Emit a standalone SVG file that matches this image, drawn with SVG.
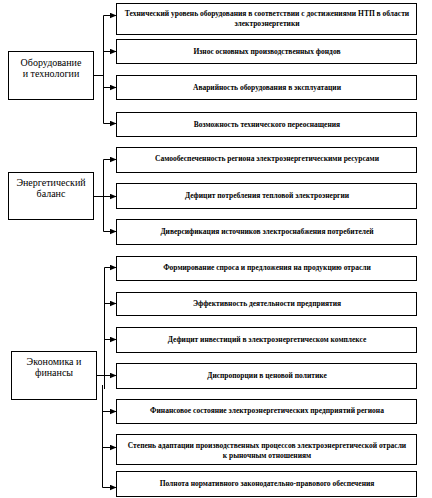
<svg xmlns="http://www.w3.org/2000/svg" width="432" height="498" viewBox="0 0 432 498">
<style>
.box{fill:#fff;stroke:#000;stroke-width:1}
.ln{fill:none;stroke:#000;stroke-width:1}
.ar{fill:none;stroke:#000;stroke-width:1;marker-end:url(#ah)}
.t{font-family:"Liberation Serif","Times New Roman",serif;font-size:7.5px;font-weight:bold;text-anchor:middle;fill:#000}
.m{font-family:"Liberation Serif","Times New Roman",serif;font-size:10px;text-anchor:middle;fill:#000}
</style>
<defs>
<marker id="ah" markerUnits="userSpaceOnUse" markerWidth="7" markerHeight="6" refX="7" refY="3" orient="auto">
<path d="M0,0 L7,3 L0,6 z" fill="#000"/>
</marker>
</defs>
<g id="connectors">
<path class="ln" d="M93.5,75.5 H103.5 M103.5,15.5 V123.5"/>
<path class="ar" d="M103.5,15.5 H116.5"/>
<path class="ar" d="M103.5,51.5 H116.5"/>
<path class="ar" d="M103.5,87.5 H116.5"/>
<path class="ar" d="M103.5,123.5 H116.5"/>
<path class="ln" d="M93.5,196.5 H103.5 M103.5,159.5 V231.5"/>
<path class="ar" d="M103.5,159.5 H116.5"/>
<path class="ar" d="M103.5,196.5 H116.5"/>
<path class="ar" d="M103.5,231.5 H116.5"/>
<path class="ln" d="M96.5,375.5 H104.5 M104.5,267.5 V389 M102.5,385 V487.5"/>
<path class="ar" d="M104.5,267.5 H116.5"/>
<path class="ar" d="M104.5,303.5 H116.5"/>
<path class="ar" d="M104.5,339.5 H116.5"/>
<path class="ar" d="M104.5,375.5 H116.5"/>
<path class="ar" d="M102.5,411.5 H116.5"/>
<path class="ar" d="M102.5,447.5 H116.5"/>
<path class="ar" d="M102.5,487.5 H116.5"/>
</g>
<g id="n-equip">
<rect class="box" x="8.5" y="51.5" width="85" height="48"/>
<text class="m" x="51" y="65.5">Оборудование</text>
<text class="m" x="51" y="76.5">и технологии</text>
</g>
<g id="n-balance">
<rect class="box" x="8.5" y="172.5" width="85" height="47"/>
<text class="m" x="51" y="185.5">Энергетический</text>
<text class="m" x="51" y="196.5">баланс</text>
</g>
<g id="n-econ">
<rect class="box" x="11.5" y="351.5" width="85" height="48"/>
<text class="m" x="54" y="364.5">Экономика и</text>
<text class="m" x="54" y="375.5">финансы</text>
</g>
<g id="r1">
<rect class="box" x="116.5" y="3.5" width="300" height="31"/>
<text class="t" x="267" y="15.5">Технический уровень оборудования в соответствии с достижениями НТП в области</text>
<text class="t" x="267" y="25.5">электроэнергетики</text>
</g>
<g id="r2">
<rect class="box" x="116.5" y="39.5" width="300" height="24"/>
<text class="t" x="267" y="53.5">Износ основных производственных фондов</text>
</g>
<g id="r3">
<rect class="box" x="116.5" y="75.5" width="300" height="24"/>
<text class="t" x="267" y="89.5">Аварийность оборудования в эксплуатации</text>
</g>
<g id="r4">
<rect class="box" x="116.5" y="112.5" width="300" height="24"/>
<text class="t" x="267" y="126.5">Возможность технического переоснащения</text>
</g>
<g id="r5">
<rect class="box" x="116.5" y="147.5" width="300" height="25"/>
<text class="t" x="267" y="161">Самообеспеченность региона электроэнергетическими ресурсами</text>
</g>
<g id="r6">
<rect class="box" x="116.5" y="183.5" width="300" height="25"/>
<text class="t" x="267" y="197.5">Дефицит потребления тепловой электроэнергии</text>
</g>
<g id="r7">
<rect class="box" x="116.5" y="219.5" width="300" height="25"/>
<text class="t" x="267" y="233.5">Диверсификация источников электроснабжения потребителей</text>
</g>
<g id="r8">
<rect class="box" x="116.5" y="256.5" width="300" height="24"/>
<text class="t" x="267" y="270">Формирование спроса и предложения на продукцию отрасли</text>
</g>
<g id="r9">
<rect class="box" x="116.5" y="292.5" width="300" height="23"/>
<text class="t" x="267" y="306">Эффективность деятельности предприятия</text>
</g>
<g id="r10">
<rect class="box" x="116.5" y="327.5" width="300" height="25"/>
<text class="t" x="267" y="341.5">Дефицит инвестиций в электроэнергетическом комплексе</text>
</g>
<g id="r11">
<rect class="box" x="116.5" y="363.5" width="300" height="25"/>
<text class="t" x="267" y="377.5">Диспропорции в ценовой политике</text>
</g>
<g id="r12">
<rect class="box" x="116.5" y="399.5" width="300" height="24"/>
<text class="t" x="267" y="413">Финансовое состояние электроэнергетических предприятий региона</text>
</g>
<g id="r13">
<rect class="box" x="116.5" y="434.5" width="300" height="30"/>
<text class="t" x="267" y="447.5">Степень адаптации производственных процессов электроэнергетической отрасли</text>
<text class="t" x="267" y="457.5">к рыночным отношениям</text>
</g>
<g id="r14">
<rect class="box" x="116.5" y="471.5" width="300" height="25"/>
<text class="t" x="267" y="486">Полнота нормативного законодательно-правового обеспечения</text>
</g>
</svg>
